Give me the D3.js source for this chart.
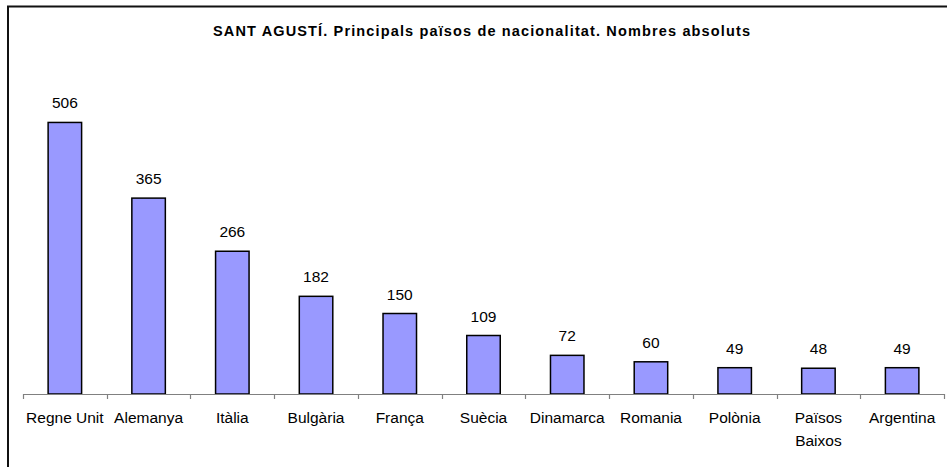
<!DOCTYPE html>
<html>
<head>
<meta charset="utf-8">
<script src="https://cdn.jsdelivr.net/npm/d3@7"></script>
<style>
  html, body { margin: 0; padding: 0; background: #fff; }
  svg { display: block; }
  text { font-family: "Liberation Sans", Arial, sans-serif; fill: #000; }
</style>
</head>
<body>
<svg id="chart" width="947" height="467"></svg>
<script>
// Nationalities with the most residents, absolute counts
const categories = ["Regne Unit", "Alemanya", "Itàlia", "Bulgària", "França", "Suècia",
                    "Dinamarca", "Romania", "Polònia", "Països Baixos", "Argentina"];
const values = [506, 365, 266, 182, 150, 109, 72, 60, 49, 48, 49];
const yTicks = [0, 600];
const title = "SANT AGUSTÍ. Principals països de nacionalitat. Nombres absoluts";

const svg = d3.select("#chart");

// outer chart frame (extends past the visible area on the right and bottom)
svg.append("rect")
  .attr("x", 8).attr("y", 6.5)
  .attr("width", 1000).attr("height", 1000)
  .attr("fill", "none").attr("stroke", "#111").attr("stroke-width", 2);

// title
svg.append("text")
  .attr("x", 481.5).attr("y", 36)
  .attr("text-anchor", "middle")
  .attr("textLength", 537)
  .attr("lengthAdjust", "spacing")
  .style("font-size", "14.5px").style("font-weight", "bold")
  .text(title);

const plot = { left: 23, right: 944, top: 72, bottom: 394 };

const xCat = d3.scaleBand()
  .domain(categories)
  .range([plot.left, plot.right]);

const y = d3.scaleLinear()
  .domain([yTicks[0], yTicks[1]])
  .range([plot.bottom, plot.top]);

const barW = xCat.bandwidth() / 2.5;

// bars
svg.append("g").selectAll("rect")
  .data(categories)
  .join("rect")
  .attr("x", d => xCat(d) + (xCat.bandwidth() - barW) / 2)
  .attr("width", barW)
  .attr("y", (d, i) => y(values[i]))
  .attr("height", (d, i) => y(0) - y(values[i]))
  .attr("fill", "#9999FF")
  .attr("stroke", "#000")
  .attr("stroke-width", 1.5);

// value labels
svg.append("g").selectAll("text")
  .data(categories)
  .join("text")
  .attr("x", d => xCat(d) + xCat.bandwidth() / 2)
  .attr("y", (d, i) => y(values[i]) - 14)
  .attr("text-anchor", "middle")
  .style("font-size", "15.5px")
  .text((d, i) => values[i]);

// category axis
const axis = svg.append("g");
axis.append("line")
  .attr("x1", plot.left).attr("x2", plot.right)
  .attr("y1", plot.bottom + 0.5).attr("y2", plot.bottom + 0.5)
  .attr("stroke", "#808080").attr("stroke-width", 1.2);

const boundaries = categories.map(c => xCat(c)).concat([plot.right]);
axis.selectAll("line.tick")
  .data(boundaries)
  .join("line")
  .attr("class", "tick")
  .attr("x1", d => Math.round(d) + 0.5).attr("x2", d => Math.round(d) + 0.5)
  .attr("y1", plot.bottom).attr("y2", plot.bottom + 5)
  .attr("stroke", "#808080").attr("stroke-width", 1.2);

// category labels, wrapped onto two lines where needed
const labelWidthLimit = xCat.bandwidth() - 2;
const labels = axis.selectAll("text.cat")
  .data(categories)
  .join("text")
  .attr("class", "cat")
  .attr("x", d => xCat(d) + xCat.bandwidth() / 2)
  .attr("y", 423)
  .attr("text-anchor", "middle")
  .style("font-size", "15.5px");

labels.each(function(d) {
  const t = d3.select(this);
  t.text(d);
  if (this.getComputedTextLength() > labelWidthLimit && d.includes(" ") && d !== "Regne Unit") {
    const words = d.split(" ");
    t.text(null);
    words.forEach((w, i) => {
      t.append("tspan")
        .attr("x", xCat(d) + xCat.bandwidth() / 2)
        .attr("dy", i === 0 ? 0 : 23)
        .text(w);
    });
  }
});
</script>
</body>
</html>
